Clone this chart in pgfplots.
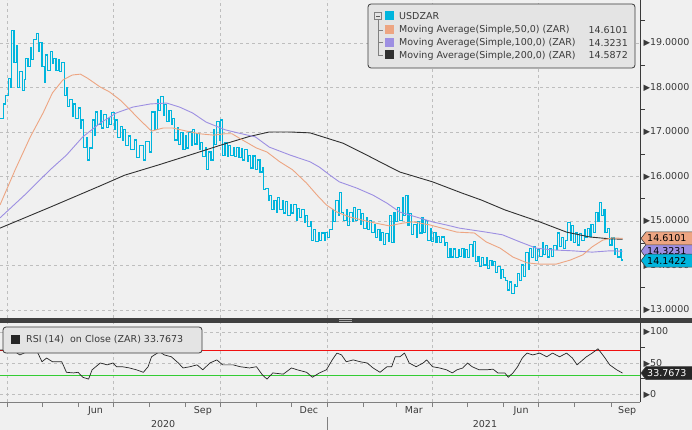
\documentclass[border=0pt]{standalone}
\usepackage{pgfplots}
\pgfplotsset{compat=1.18}
\usepackage{fontspec}
\setmainfont{DejaVu Sans}

\definecolor{bg}{HTML}{F0F0F0}
\definecolor{legbg}{HTML}{E4E4E4}
\definecolor{usd}{HTML}{00B5DD}
\definecolor{maA}{HTML}{EDA582}
\definecolor{maB}{HTML}{9D8FE2}
\definecolor{maC}{HTML}{303030}
\definecolor{gridc}{HTML}{BEBEBE}
\definecolor{txt}{HTML}{3A3A3A}
\definecolor{rsired}{HTML}{F01010}
\definecolor{rsigreen}{HTML}{33CC33}

\newcommand{\lbl}{\fontsize{9.5}{11}\selectfont}

\pgfplotsset{
  bbg/.style={
    width=640pt, scale only axis, xmin=-6, xmax=543,
    axis line style={draw=none}, clip mode=individual,
    /pgf/number format/assume math mode=true,
    xtick={0,91,183,275,365,456}, xticklabels={},
    xmajorgrids, ymajorgrids,
    grid style={gridc, dash pattern=on 3pt off 3pt, line width=0.7pt},
    ytick pos=right, yticklabel pos=right, xtick pos=left,
    tick align=outside, major tick length=5pt, minor tick length=5pt,
    major y tick style={draw=none},
    minor y tick style={txt, line width=0.7pt},
    yticklabel style={font=\lbl, text=txt, xshift=-5pt},
    every axis plot/.append style={line join=round},
  }
}

% #1 coordinate name, #2 fill, #3 text colour, #4 text, #5 vertical shift
\newcommand{\valtag}[5]{%
  \filldraw[fill=#2, draw=black!75, line width=0.6pt] ([xshift=1pt,yshift=#5]#1) -- ++(5pt,6.5pt) -- ++(52pt,0) -- ++(0,-13pt) -- ++(-52pt,0) -- cycle;
  \node[anchor=west, text=#3, font=\lbl, inner sep=0pt] at ([xshift=7pt,yshift=#5]#1) {#4};
}

\begin{document}
\begin{tikzpicture}[x=1pt,y=1pt]
\useasboundingbox (0,0) rectangle (692,-430);
\fill[bg] (0,0) rectangle (692,-430);

% price panel
\begin{axis}[bbg, at={(0pt,0pt)}, anchor=north west, height=318pt,
  ymin=12.82, ymax=19.966,
  ytick={13,14,...,19}, minor ytick={13.5,14.5,...,19.5},
  major x tick style={draw=none},
  yticklabel={{\fontsize{8.5}{8}\selectfont ▶}\pgfmathprintnumber[fixed,fixed zerofill,precision=4]{\tick}},
]
\addplot[usd, line width=1.1pt, const plot, line join=miter] coordinates {
(-6,17.31)(-3,17.63)(-1,17.81)(1,18.21)(3,17.99)(4,19.29)(6,18.57)(8,18.95)(9,17.99)(11,18.35)(13,17.94)(15,18.17)(16,18.66)(18,18.48)(20,18.89)(21,18.62)(23,19.07)(25,19.22)(27,18.80)(28,19.02)(30,18.48)(32,18.12)(33,18.73)(35,18.39)(37,18.80)(39,18.53)(40,18.66)(42,18.39)(44,18.62)(45,18.35)(47,18.57)(49,17.83)(51,17.99)(52,17.58)(54,17.72)(56,17.34)(57,17.63)(59,17.31)(61,17.54)(63,17.09)(64,17.27)(66,16.66)(68,16.87)(69,16.37)(71,16.64)(73,17.27)(75,16.93)(76,17.45)(78,17.16)(80,17.49)(81,17.09)(83,17.40)(85,17.11)(87,17.31)(88,17.16)(90,17.43)(92,17.05)(93,17.27)(95,16.87)(97,17.13)(99,16.82)(100,17.05)(102,16.69)(104,16.91)(106,16.60)(109,16.82)(111,16.42)(114,16.69)(117,16.37)(119,16.78)(122,16.55)(124,17.45)(127,17.05)(129,17.72)(130,17.49)(132,17.79)(134,17.38)(135,17.61)(137,17.23)(139,17.49)(141,17.16)(142,17.31)(144,16.82)(146,17.09)(147,16.71)(149,16.98)(151,16.60)(153,16.91)(154,16.64)(156,17.00)(158,16.69)(159,17.05)(161,16.73)(163,16.96)(165,16.60)(166,16.77)(168,16.44)(170,16.64)(171,16.15)(173,16.55)(175,16.37)(177,17.05)(178,16.71)(180,17.23)(182,16.82)(183,17.27)(185,16.48)(187,16.77)(189,16.44)(190,16.69)(192,16.48)(194,16.64)(195,16.44)(197,16.66)(199,16.42)(201,16.62)(202,16.37)(204,16.60)(206,16.33)(207,16.48)(209,16.19)(211,16.46)(213,16.15)(215,16.37)(217,16.10)(219,16.19)(220,15.70)(222,15.74)(224,15.47)(225,15.58)(227,15.25)(229,15.47)(231,15.20)(232,15.52)(234,15.25)(236,15.47)(237,15.18)(239,15.43)(241,15.13)(243,15.36)(244,15.18)(246,15.38)(248,15.02)(249,15.29)(251,15.07)(253,15.25)(255,14.96)(256,15.13)(258,14.87)(260,14.98)(261,14.57)(263,14.80)(265,14.53)(267,14.75)(268,14.57)(270,14.73)(272,14.57)(273,14.75)(275,14.62)(277,14.80)(279,15.25)(280,14.98)(282,15.47)(284,15.13)(285,15.65)(287,15.20)(289,15.02)(291,15.25)(292,14.89)(294,15.20)(296,14.98)(297,15.31)(299,15.02)(301,15.25)(303,14.93)(304,15.16)(306,14.84)(308,15.07)(309,14.80)(311,15.02)(313,14.75)(315,14.93)(316,14.62)(318,14.80)(320,14.57)(321,14.75)(323,14.48)(325,14.71)(327,14.53)(328,15.13)(330,14.51)(332,15.20)(333,14.98)(335,15.31)(337,15.02)(339,15.52)(340,15.13)(342,15.58)(344,14.89)(345,15.16)(347,14.69)(349,14.93)(351,14.64)(352,14.98)(354,14.73)(356,15.07)(357,14.75)(359,15.02)(361,14.57)(363,14.84)(364,14.53)(366,14.75)(368,14.51)(369,14.66)(371,14.51)(373,14.64)(375,14.44)(376,14.51)(378,14.17)(380,14.39)(381,14.19)(383,14.37)(385,14.17)(387,14.35)(388,14.21)(390,14.39)(392,14.19)(393,14.35)(395,14.17)(397,14.48)(399,14.21)(400,14.53)(402,14.08)(404,14.19)(405,13.97)(407,14.17)(409,14.01)(411,14.17)(412,13.94)(414,14.12)(416,13.99)(417,14.08)(419,13.85)(421,13.97)(423,13.72)(424,13.90)(426,13.74)(428,13.67)(429,13.45)(431,13.63)(433,13.38)(435,13.58)(436,13.52)(438,13.81)(440,13.67)(441,14.01)(443,13.76)(445,14.30)(447,13.90)(448,14.39)(450,14.17)(452,14.42)(453,14.12)(455,14.35)(457,14.21)(459,14.51)(460,14.24)(462,14.44)(464,14.19)(465,14.39)(467,14.21)(469,14.44)(471,14.35)(472,14.73)(474,14.42)(476,14.62)(477,14.39)(479,14.57)(481,14.96)(483,14.57)(484,14.89)(486,14.51)(488,14.73)(489,14.46)(491,14.71)(493,14.57)(495,14.80)(496,14.62)(498,14.84)(500,14.66)(501,14.93)(503,14.75)(505,15.20)(507,14.98)(508,15.41)(510,15.13)(512,15.25)(513,14.75)(515,14.84)(517,14.46)(519,14.62)(521,14.24)(522,14.39)(524,14.19)(526,14.35)(527,14.12)(528,14.14)
};
% 200-day
\addplot[maC, line width=0.9pt] coordinates {
(-6,14.84)(37,15.31)(80,15.79)(101,16.03)(130,16.26)(159,16.50)(184,16.71)(208,16.90)(225,17.00)(243,17.00)(260,16.98)(271,16.89)(288,16.75)(305,16.53)(322,16.30)(337,16.10)(351,15.99)(365,15.88)(377,15.76)(390,15.63)(407,15.47)(427,15.25)(457,14.98)(480,14.75)(500,14.64)(517,14.60)(528,14.59)
};
% 100-day
\addplot[maB, line width=0.9pt] coordinates {
(-6,15.07)(15,15.58)(37,16.15)(51,16.48)(65,16.89)(80,17.20)(94,17.43)(108,17.56)(123,17.63)(137,17.65)(148,17.56)(159,17.43)(171,17.22)(187,17.05)(198,16.98)(213,16.89)(225,16.66)(243,16.48)(260,16.33)(268,16.21)(277,16.03)(285,15.88)(300,15.74)(314,15.58)(326,15.40)(337,15.20)(351,15.09)(365,14.98)(377,14.91)(388,14.84)(411,14.75)(425,14.69)(440,14.53)(454,14.39)(468,14.35)(485,14.33)(502,14.30)(517,14.33)(528,14.32)
};
% 50-day
\addplot[maA, line width=0.9pt] coordinates {
(-6,15.36)(7,16.15)(20,16.89)(31,17.43)(39,17.88)(48,18.17)(56,18.28)(63,18.30)(69,18.21)(80,18.01)(88,17.90)(97,17.72)(104,17.54)(114,17.27)(124,17.02)(134,17.09)(142,17.09)(154,17.02)(165,16.96)(177,16.93)(187,16.96)(193,16.96)(202,16.82)(214,16.64)(223,16.55)(234,16.33)(245,16.15)(257,15.85)(266,15.58)(274,15.36)(283,15.20)(294,15.09)(311,14.98)(328,14.89)(339,14.95)(348,14.98)(363,14.91)(373,14.84)(386,14.75)(401,14.73)(411,14.53)(423,14.39)(434,14.19)(446,14.06)(457,14.03)(471,14.03)(483,14.12)(494,14.24)(502,14.42)(511,14.57)(519,14.62)(528,14.61)
};
\draw[txt, line width=0.8pt] (rel axis cs:1,0) -- (rel axis cs:1,1);
\coordinate (tA) at (axis cs:543,14.6101);
\coordinate (tB) at (axis cs:543,14.3231);
\coordinate (tC) at (axis cs:543,14.1422);
\end{axis}

% RSI panel
\begin{axis}[bbg, at={(0pt,-323pt)}, anchor=north west, height=79pt,
  ymin=-12.9, ymax=114.5,
  ytick={0,50,100}, minor ytick={25,75},
  minor xtick={30,61,122,153,214,244,306,334,395,426,487,518},
  major x tick style={gray, line width=0.7pt},
  minor x tick style={gray, line width=0.7pt},
  extra x ticks={76,168,259,349,441,532},
  extra x tick labels={Jun,Sep,Dec,Mar,Jun,Sep},
  extra x tick style={grid=none, major tick length=0pt},
  xticklabel style={font=\lbl, text=txt, yshift=-1pt},
  yticklabel={{\fontsize{8.5}{8}\selectfont ▶}\pgfmathprintnumber{\tick}},
]
\addplot[rsired, line width=0.8pt] coordinates {(-6,70)(543,70)};
\addplot[rsigreen, line width=0.8pt] coordinates {(-6,30)(543,30)};
\addplot[black!85, line width=0.7pt] coordinates {
(-6,71)(-2,71)(4,79)(7,68)(11,63)(17,68)(22,71)(26,68)(30,52)(34,58)(39,52)(47,52)(51,35)(57,34)(61,35)(65,27)(70,24)(73,39)(80,50)(86,47)(91,50)(94,44)(99,44)(105,42)(111,39)(117,35)(121,44)(124,60)(129,66)(131,68)(135,63)(141,60)(147,50)(151,42)(157,44)(163,47)(168,39)(174,50)(180,55)(185,47)(194,47)(200,44)(208,42)(214,44)(219,31)(223,24)(228,34)(237,32)(244,42)(249,39)(257,35)(262,27)(268,34)(274,39)(279,55)(283,66)(287,63)(291,52)(297,55)(303,52)(309,50)(314,42)(320,35)(326,44)(330,44)(333,60)(337,60)(341,66)(345,50)(351,44)(357,50)(360,55)(365,44)(371,42)(377,39)(382,34)(386,39)(391,42)(395,50)(399,44)(405,39)(411,39)(417,40)(421,34)(427,34)(430,27)(434,34)(438,44)(442,58)(446,66)(451,63)(457,66)(463,60)(468,66)(474,60)(480,66)(485,58)(489,47)(497,60)(502,66)(507,73)(513,58)(517,47)(523,39)(528,33.77)
};
\draw[gray, line width=0.8pt] (rel axis cs:0,0) -- (rel axis cs:1,0);
\draw[txt, line width=0.8pt] (rel axis cs:1,0) -- (rel axis cs:1,1);
\node[text=txt, font=\lbl] at ([yshift=-22pt]axis cs:134,-12.9) {2020};
\node[text=txt, font=\lbl] at ([yshift=-22pt]axis cs:410,-12.9) {2021};
\draw[gray, line width=0.7pt] ([yshift=-15pt]axis cs:275,-12.9) -- ([yshift=-30pt]axis cs:275,-12.9);
\coordinate (tR) at (axis cs:543,33.7673);
\end{axis}

% separator bar
\fill[black!75] (0,-317.5) rectangle (692,-323);
\draw[gray!60, line width=0.5pt] (339,-319.3) -- (352,-319.3) (339,-321.3) -- (352,-321.3);

% value tags
\valtag{tB}{maB}{black}{14.3231}{0pt}
\valtag{tA}{maA}{black}{14.6101}{0pt}
\valtag{tC}{usd}{black}{14.1422}{-1.5pt}
\valtag{tR}{black!85}{white}{33.7673}{0pt}

% main legend
\filldraw[fill=legbg, draw=txt, line width=0.8pt, rounded corners=3pt] (368,-4) rectangle (635,-68);
\draw[gray, line width=0.6pt] (378,-19.5) -- (378,-55.5) -- (383,-55.5) (378,-30) -- (383,-30) (378,-42.5) -- (383,-42.5);
\filldraw[fill=legbg, draw=gray, line width=0.6pt] (374.5,-12.5) rectangle (381.5,-19.5);
\draw[gray!70!black, line width=0.6pt] (376,-16) -- (380,-16);
\fill[usd] (385,-11) rectangle (394,-20);
\fill[maA] (385,-25) rectangle (394,-34);
\fill[maB] (385,-38) rectangle (394,-47);
\fill[maC] (385,-50.5) rectangle (394,-59.5);
\node[anchor=west, text=txt, font=\lbl, inner sep=0pt] at (399,-16) {USDZAR};
\node[anchor=west, text=txt, font=\lbl, inner sep=0pt] at (399,-30) {Moving Average(Simple,50,0) (ZAR)};
\node[anchor=west, text=txt, font=\lbl, inner sep=0pt] at (399,-43) {Moving Average(Simple,100,0) (ZAR)};
\node[anchor=west, text=txt, font=\lbl, inner sep=0pt] at (399,-55.5) {Moving Average(Simple,200,0) (ZAR)};
\node[anchor=east, text=txt, font=\lbl, inner sep=0pt] at (628,-30) {14.6101};
\node[anchor=east, text=txt, font=\lbl, inner sep=0pt] at (628,-43) {14.3231};
\node[anchor=east, text=txt, font=\lbl, inner sep=0pt] at (628,-55.5) {14.5872};

% RSI legend
\filldraw[fill=legbg, draw=txt, line width=0.8pt, rounded corners=3pt] (3,-327) rectangle (202,-353);
\fill[black!85] (11,-335) rectangle (20,-344);
\node[anchor=west, text=txt, font=\lbl, inner sep=0pt] at (26,-340) {RSI (14)\ \ on Close (ZAR) 33.7673};
\end{tikzpicture}
\end{document}
